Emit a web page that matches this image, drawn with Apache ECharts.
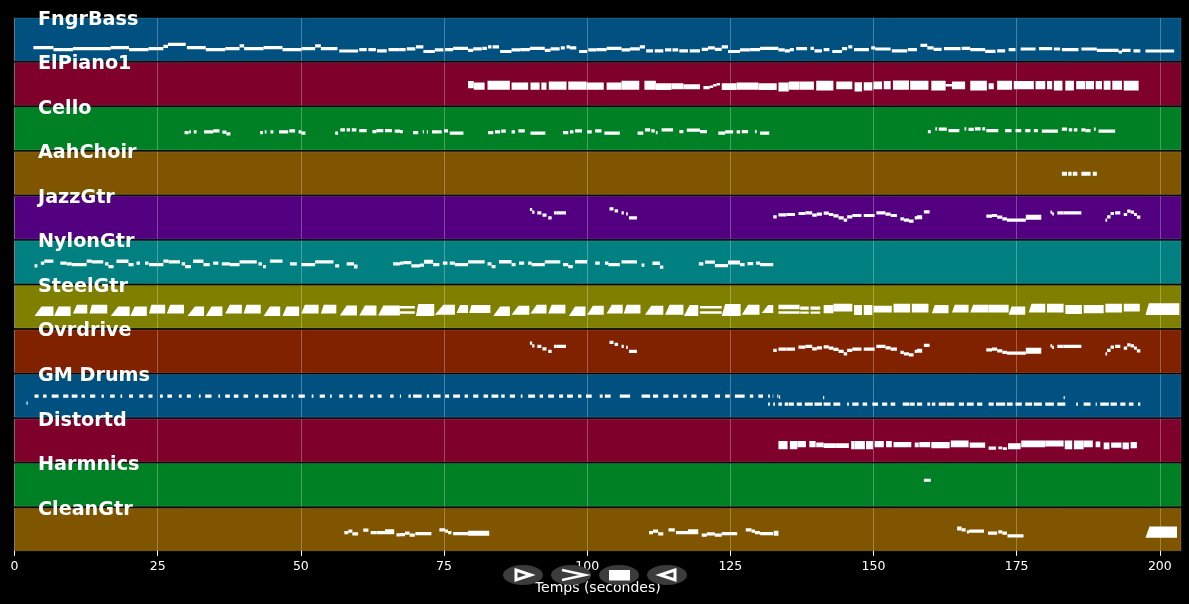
<!DOCTYPE html>
<html>
<head>
<meta charset="utf-8">
<style>html,body{margin:0;padding:0;background:#000}#chart{width:1189px;height:604px}</style>
<script src="https://cdn.jsdelivr.net/npm/echarts@6/dist/echarts.min.js"></script>
</head>
<body>
<div id="chart"></div>
<script>
// each note: [start (s), end (s), level in band, optional thickness, optional strum (s)]
var trackNames = ['FngrBass', 'ElPiano1', 'Cello', 'AahChoir', 'JazzGtr', 'NylonGtr', 'SteelGtr', 'Ovrdrive', 'GM Drums', 'Distortd', 'Harmnics', 'CleanGtr'];
var timeTicks = [0, 25, 50, 75, 100, 125, 150, 175, 200];

var fngrBass = [[3.3,6.8,13.2],[6.8,10.2,11.2],[10.2,16.8,12.2],[16.8,20,13.2],[20,23.4,11.2],[23.4,26,12.2],[26,26.8,14.5],[26.8,29.9,16.5],[30.1,33.4,13.2],[33.4,36.8,11.2],[36.8,39.3,12.2],[39.3,40.1,15],[40.1,43.5,12.2],[43.5,46.8,13.2],[46.8,50.1,11.2],[50.1,52.5,12.2],[52.5,53.5,15],[53.5,56.4,12.2],[56.7,60,9.8],[60.2,61.5,11.2],[61.8,63.1,11.2],[63.3,65,10],[65.3,67.3,11.2],[67.3,68.3,11.2],[68.5,70,12],[70.1,71.4,14],[71.4,73.4,9.3],[73.4,74.9,11],[75.2,76.6,11.2],[76.6,79.2,12.5],[79.2,80.1,10.5],[80.1,81.6,12],[81.7,82.5,12.5],[82.7,83.3,14],[83.5,84.6,14],[84.8,86.8,9.3],[86.8,88.3,11],[88.3,90,11.2],[90,92.6,12.5],[92.6,93.6,10.5],[93.6,95.2,12],[95.4,96.1,13],[96.4,97,14],[97,98.1,13],[98.6,100,9.3],[100.2,101.6,11],[101.6,103.4,11.2],[103.4,106,12.5],[106,107.5,11],[107.5,109.2,12],[109.2,110.1,14],[110.3,111.5,10],[111.8,113.3,10],[113.6,114.7,11],[114.9,115.9,11],[116.1,117.6,10],[117.9,119.7,10],[120,121.1,11.5],[121.1,122.3,13],[122.3,123.5,11.5],[123.5,124.6,14],[124.6,126.7,9.3],[126.7,128.4,11],[128.4,130.2,11.2],[130.2,133.4,12.5],[133.4,134.5,11],[134.5,135.4,10],[135.4,136.1,11.2],[136.5,138.4,12.2],[139,139.6,12.5],[139.7,141,10],[141.3,142.3,11.2],[142.8,144.5,9.3],[144.5,145.4,12.2],[145.6,146.3,14],[146.6,149.2,11.2],[149.6,150.3,13],[150.3,153,11.8],[153.2,155.9,10],[156,157.6,11.2],[158.2,159.4,15.5],[159.4,160.5,13],[160.5,161.9,11.5],[162.3,165.2,12.2],[165.4,166.9,12.5],[166.9,169.5,11.2],[169.5,171.3,9.5],[171.6,173,10],[173.6,174.8,11.2],[175.7,178.3,11.8],[178.9,181.2,12.2],[181.5,182.6,11.8],[182.9,185.8,11.2],[186.3,189,11.8],[189,192.8,10.5],[192.8,193.4,8.8],[193.4,194.9,10.5],[195.4,196.6,10],[197.5,202.5,9.8]];

var elPiano = [[79.2,80.2,20.8,7.3],[80.2,82.1,19.2,7.3],[82.6,86.5,20,9],[86.8,89.7,19.2,7.3],[90.1,91.7,19.2,7.3],[92,92.9,19.2,7.3],[93.3,96.4,19.7,8.3],[96.7,99.9,19.7,8.3],[99.9,102.9,19.2,7.3],[103.4,106,19.2,7.3],[106,109.1,20,9],[110,112,20,9],[112,114.7,18.8,6.7],[114.7,116.8,19.2,6],[116.8,119.7,18.7,5],[120.3,121.4,17.8,3.3],[121.4,122,18.5,2.5],[122,122.6,20,2.5],[122.6,123.2,21,2.5],[123.5,126.1,18.8,6.7],[126.1,129.9,19.2,7.3],[129.9,133.1,18.8,6.7],[133.4,135.2,18.3,9],[135.2,137.1,19.7,8.3],[137.1,139.6,19.7,8.3],[140,143,19.7,9.7],[143.5,146.3,20,7.7],[146.7,148,18.5,9.3],[148.3,149.8,19,8.3],[150,151.5,20,7.7],[151.8,153,20.3,8.3],[153.4,156.2,20.2,9.3],[156.4,159.6,20,9],[160.1,162.6,19.7,9.7],[162.6,163.7,20,2.5],[163.7,166,20,7.7],[166.9,169.8,19.7,9.7],[170.1,171,19.2,6],[171.6,174.2,20,9],[174.5,178,20.3,8.3],[178.3,180,20.3,8.3],[180.3,181.2,20.3,8.3],[181.5,183,19.7,9.7],[183.5,185,19.7,9.7],[185.4,187,20.3,8.3],[187.1,188.5,20.3,8.3],[188.8,189.9,20.3,8.3],[190.2,191.4,20,9],[191.7,193.4,20,9],[193.7,196.3,19.7,9.7]];

var cello = [[29.7,30.4,17.3],[30.5,30.8,18],[31.3,31.8,18],[33.1,33.8,18],[33.8,34.7,18],[34.7,35.8,19],[36.3,37,17.8],[37,37.7,16],[42.9,43.4,17.3],[43.7,44,18],[44.7,45.2,18],[46.2,46.9,18],[46.9,47.8,18],[48,49,19],[49.6,50.1,18],[50.1,50.8,16.7],[56,56.5,16.7],[56.9,57.7,20],[58,58.6,20],[58.9,59.7,20],[60.2,61.5,19.3],[62.5,63.2,18.3],[63.2,64.4,19.3],[64.7,65.9,19.3],[66.4,67.3,18.7],[67.3,67.8,18.3],[69.6,70.5,17.3],[71.3,71.5,18],[72,72.2,18],[72.9,74,18],[74,74.6,18],[75,75.7,19],[76,78.4,16.7],[82.7,83.6,17.3],[83.9,84.8,18],[85,85.8,18.7],[86.8,87.4,18],[88,89.1,19],[90.1,92.7,16.7],[95.8,96.7,17.3],[97,97.6,18],[97.9,99.1,19],[100,100.8,18],[101.4,102.5,19],[103,105.7,16.7],[108.8,109.8,16.7],[110.1,111,20],[111.2,111.8,19],[112,112.3,17.3],[113,115,20],[116.1,116.8,18.3],[117.4,119.7,19.7],[119.7,120.9,18.3],[122.9,124.1,16.7],[124.1,125.5,18],[126.1,126.7,18],[127,128.1,18.3],[129.3,129.6,18.3],[130.2,131.8,16.7],[159.5,160,18.3],[160.8,161.1,21],[161.4,162.8,20.7],[163.1,165,19.3],[165.9,166.2,21],[166.6,167.5,20.5],[167.7,168.7,21],[169,169.5,21],[169.7,171.8,19.3],[173,174.1,19.3],[174.8,175.8,19.3],[176.5,177.4,19.3],[178,178.7,19.3],[179.4,182.2,18.7],[182.9,183.8,20.7],[184.1,184.7,20],[185,185.6,20],[186.3,187,20],[187,187.9,19.3],[188.5,188.8,20.7],[189.3,192.2,18.7]];

var aahChoir = [[182.9,183.8,20.6,4],[184,184.6,20.6,4],[184.8,185.6,20.6,4],[186.3,187.3,20.6,4],[187.3,187.9,20.6,4],[188.3,189,20.6,4]];

var jazzGtr = [[90,90.4,29.5],[90.4,90.8,26.8],[91.3,92,26.2],[92.2,92.9,23.8],[93.2,93.8,21.2],[94.2,94.7,26.2],[94.7,96.3,26.2],[103.9,104.6,30.2],[104.8,105.4,28.2],[106,106.4,26.2],[106.8,107.1,25.2],[107.3,108.7,21.2],[132.5,133.1,22.2],[133.4,134.8,24.2],[134.8,136.3,24.5],[136.9,138.1,25.5],[138.1,139.3,26.2],[139.3,140.1,23.8],[140.1,141,24.8],[141.3,142.2,25.8],[142.2,143,24.5],[143,143.9,23.2],[143.9,144.8,21.2],[144.8,145.4,18.8],[145.4,146.3,22.2],[146.3,147.9,23.5],[148.3,150.2,23.5],[150.5,152.1,26.2],[152.1,153,24.8],[153,154.1,23.5],[154.7,155.3,20.2],[155.3,156.2,18.8],[156.2,157,17.8],[157.2,157.6,21.2],[157.6,158.5,21.8,4],[158.8,159.8,27.2],[169.7,170.7,22.8],[170.7,171.6,23.5],[171.6,172.5,21.8],[172.5,173.3,20.2],[173.3,176.6,18.8],[176.6,179.3,21.8,5],[180.9,181.2,26.8],[181.2,181.5,25.2],[182.1,183.2,26.2],[183.2,186.3,26.2],[190.5,190.8,18.8],[190.8,191.4,22.2],[191.4,192,25.5],[192.2,193.1,26.2],[193.7,194.3,24.5],[194.3,194.9,27.8],[194.9,195.5,26.8],[195.5,196,24.5],[196,196.6,21.8]];

var nylonGtr = [[3.5,4,17.7],[4.6,5.2,20.4],[5.2,6.8,22.4],[8,9.1,20.4],[9.1,10,19.7],[10,12.6,19],[12.6,13.5,22.4],[13.5,15.5,21.7],[15.8,16.4,19.7],[16.4,17.3,17],[17.8,19.9,22.4,3.5],[19.9,20.8,19],[21.3,21.9,20.4],[22.8,23.4,20.4],[23.5,26,19],[26,26.9,22.4],[26.9,28.9,21.7],[29.2,29.8,19.7],[29.8,30.8,17],[31.2,33,22.4,3.5],[33,34.1,19],[34.7,35.6,20.4],[36.2,37.6,19.7],[37.6,39.3,19],[39.3,42.3,21.7],[42.6,43.2,19.7],[43.4,43.9,17],[44.6,46.8,22.4],[48.1,49.3,19.7],[50.1,52.5,19],[52.5,55.7,21.7],[56,56.7,17.7],[58,59.3,19.7],[59.3,59.9,17,4],[66.1,67.3,19.7],[67.3,67.9,20.4],[67.9,69.3,21],[69.3,70.8,17.7],[70.8,71.5,18.4],[71.5,73.1,21.7,4],[73.1,74.2,19],[74.8,75.6,20.4],[76,76.9,20.4],[76.9,79.2,19],[79.2,82.1,21.7],[82.6,83.3,19.7],[83.3,84,17],[84.6,86.8,21.7,3.5],[86.8,87.5,19],[88.1,89,20.4],[89.7,90.3,20.4],[90.3,92.6,19],[92.6,95.3,21.7],[95.8,96.7,19],[96.7,97.5,17],[97.9,100,21.7,3.5],[101.4,102.2,20.4],[103.1,103.7,20.4],[103.7,105.7,19],[106,108.7,21.7],[109.5,110,18.4],[111.4,112.7,20.4,3.5],[112.7,113.3,16.4],[119.5,120.3,19.7],[120.6,122.3,21.4],[122.3,124.6,18],[124.6,126.7,21,4],[126.7,127.5,19],[128,129,20],[129.5,130.2,20.4],[130.2,132.5,19]];

var steelGtr = [[3.5,6.8,16.9,9.4,1.2],[6.9,9.8,16.9,9.4,0.8],[10.2,12.7,19,8.7,0.7],[13.1,16.2,19,8.7,0.4],[16.8,20.1,16.9,9.4,1.3],[20.2,23.1,16.9,9.4,0.8],[23.5,26.3,19,8.7,0.4],[26.6,29.6,19,8.7,0.6],[30.2,33.1,16.9,9.4,1.3],[33.4,36.3,16.9,9.4,1],[36.8,39.7,19,8.7,0.8],[40,43,19,8.7,0.5],[43.5,46.4,16.9,9.4,1.1],[46.8,49.7,16.9,9.4,0.7],[50.1,53.1,19,8.7,0.6],[53.5,56.2,19,8.7,0.5],[56.8,59.8,17.5,10,1.2],[60.2,63.2,17.5,10,1],[63.5,67.3,17.5,10,0.9],[67.3,69.9,20.9,2.5],[67.3,69.9,15.5,2.5],[70.1,73.3,18.2,12,0.4],[73.4,76.9,18.4,10,1.5],[77.2,79.2,19,8,0.6],[79.4,83.1,19,8,0.4],[83.6,86.5,16.9,9.4,1.2],[86.8,89.9,17.8,9,1.2],[90.1,92.9,19,8.7,1.1],[93.2,96.2,19,8.7,0.6],[96.8,99.7,16.9,9.4,1.1],[100,102.9,17.8,9,1],[103.4,106.2,19,8.7,0.9],[106.4,109.3,19,8.7,0.5],[110.1,113.3,17.8,9,1.1],[113.6,116.8,18.4,10,0.8],[116.9,119.4,17.7,11,1],[119.7,123.5,20.9,2.5],[119.7,123.5,15.5,2.5],[123.5,126.8,18.2,12,0.6],[127,130.1,18.4,10,1.1],[130.5,132.5,19,8,1.1],[133.4,137.1,21,4.5],[133.4,137.1,15.5,2.5],[137.2,138.7,19.9,3.3],[137.2,138.7,15.5,2.3],[139,140.7,19.9,3.3],[139,140.7,15.5,2.3],[141.3,143,19,8.3],[143,146.3,20.4,7.7],[146.6,148,18.2,10],[148.3,149.8,18.2,10],[150,153.2,18.9,6.7],[153.5,156.4,19.9,8.7],[156.7,159.6,19.9,8.7],[160.2,163.1,19,8.3,0.5],[163.7,166.6,19.5,7.7,0.5],[166.9,170.1,19.5,7.7,0.5],[170.1,173.6,19.5,7.7],[173.6,176.5,17.4,8.3,0.5],[177.1,180,19.9,8.7,0.5],[180.3,183.2,19.9,8.7],[183.5,186.4,18.7,9],[186.7,190.2,19,8.3],[190.5,193.4,19.9,8.7],[193.7,196.5,20.4,7.7],[197.5,203.4,19,11.7,0.6]];

var ovrdrive = [[90,90.4,29.5],[90.4,90.8,26.8],[91.3,92,26.2],[92.2,92.9,23.8],[93.2,93.8,21.2],[94.2,94.7,26.2],[94.7,96.3,26.2],[103.9,104.6,30.2],[104.8,105.4,28.2],[106,106.4,26.2],[106.8,107.1,25.2],[107.3,108.7,21.2],[132.5,133.1,22.2],[133.4,134.8,23.5],[134.8,136.3,23.5],[136.9,138.1,25.5],[138.1,139.3,26.2],[139.3,140.1,23.8],[140.1,141,24.8],[141.3,142.2,25.8],[142.2,143,24.5],[143,143.9,23.2],[143.9,144.8,21.2],[144.8,145.4,18.8],[145.4,146.3,22.2],[146.3,147.9,23.5],[148.3,150.2,23.5],[150.5,152.1,26.2],[152.1,153,24.8],[153,154.1,23.5],[154.7,155.3,20.2],[155.3,156.2,18.8],[156.2,157,17.8],[157.2,157.6,21.2],[157.6,158.5,21.8,4],[158.8,159.8,27.2],[169.7,170.7,22.8],[170.7,171.6,23.5],[171.6,172.5,21.8],[172.5,173.3,20.2],[173.3,176.6,19.5],[176.6,179.3,21.8,6],[180.9,181.2,26.8],[181.2,181.5,25.2],[182.1,183.2,26.2],[183.2,186.3,26.2],[190.5,190.8,18.8],[190.8,191.4,22.2],[191.4,192,25.5],[192.2,193.1,26.2],[193.7,194.3,24.5],[194.3,194.9,27.8],[194.9,195.5,26.8],[195.5,196,24.5],[196,196.6,21.8]];

var gmDrums = [[2.1,2.3,14],[3.5,4.2,21],[5,5.6,21],[6.5,7.7,21],[8.5,9.4,21],[10,11,21],[11.7,12.3,21],[13.2,14.1,21],[15.2,15.6,21],[16.7,17.5,21],[18.5,18.8,21],[20,20.7,21],[21.8,22.5,21],[23.4,24.1,21],[25.4,25.9,21],[26.7,27.5,21],[28.7,29.2,21],[30.1,30.8,21],[32.2,32.5,21],[33.3,34.4,21],[35.6,35.9,21],[36.8,37.6,21],[38.3,39.1,21],[40,40.8,21],[42,42.6,21],[43.4,44.3,21],[45.2,46.1,21],[46.6,47.5,21],[48.4,48.7,21],[49.6,50.7,21],[51.9,52.2,21],[53.3,54.2,21],[55.1,55.4,21],[56.7,57.4,21],[58.5,59,21],[60,60.8,21],[62.1,62.7,21],[63.4,64.1,21],[65.6,66.2,21],[67.3,67.5,21],[68.8,69.2,21],[69.6,71.1,21],[72,72.4,21],[73.1,74.4,21],[75.2,75.9,21],[76.6,77.8,21],[78.6,79.2,21],[80.1,81,21],[81.9,82.7,21],[83.3,84.5,21],[85,85.6,21],[86.5,87.4,21],[88.4,88.7,21],[89.7,90.9,21],[91.7,92.3,21],[93.2,94.2,21],[95.1,95.8,21],[96.5,97.5,21],[98.4,99,21],[99.8,100.8,21],[102.2,102.7,21],[103.1,104.1,21],[105.7,107.5,21],[109.5,111,21],[111.5,112.4,21],[113.3,114.2,21],[115,115.9,21],[116.8,117.4,21],[118.2,119.1,21],[120,121.1,21],[122.3,123.2,21],[124.1,124.9,21],[125.8,127.5,21],[128.4,129,21],[129.9,130.7,21],[131.6,131.9,21],[132.4,132.5,21],[133.2,133.4,21],[133.5,133.7,20],[131.6,131.9,13],[132.5,132.8,13],[133.4,134,13],[134.5,135.1,13],[135.2,136.1,13],[136.6,137.5,13],[138,139.4,13],[139.7,141,13],[141.3,142.5,13],[141.2,141.4,19.5],[143,144.2,13],[145.4,145.7,13],[146.3,147.4,13],[148.1,148.9,13],[149.8,150.8,13],[151.5,152.4,13],[153,153.8,13],[155.1,156.3,13],[156.4,157.2,13],[157.6,158.5,13],[159.4,159.9,13],[160.2,160.8,13],[161.4,162.6,13],[162.8,164.1,13],[164.9,165.8,13],[166.3,167.5,13],[168.1,169,13],[170.1,171,13],[171.4,173,13],[173.3,174.3,13],[174.8,175.9,13],[176.5,177.7,13],[178,179.4,13],[180,181.5,13],[182.1,183.5,13],[183.2,183.4,19.5],[185.4,185.7,13],[186.7,187.9,13],[188.8,189,13],[189.6,191.1,13],[191.4,192.5,13],[193.1,194,13],[194.6,195.4,13],[196.2,196.6,13]];

var distortd = [[133.4,135,16.7,8.3],[135.4,136.7,16.7,8.3],[136.7,138.2,17.7,6.3],[138.8,139.9,17.7,6.3],[140,141.3,16.9,4.7],[141.3,143.3,16.2,4.7],[143.3,145.7,16.2,4.7],[146.1,146.7,16.7,8.3],[146.7,148.5,16.7,8.3],[148.7,149.9,16.7,8.3],[150.2,151.8,17.7,6.3],[152.2,153.2,17.7,6.3],[153.5,156.6,17.2,5.3],[157.2,157.9,16.9,4.7],[158,159.9,17.2,5.3],[160.1,163.3,16.7,6.3],[163.5,166.6,17.9,6.7],[166.8,169.5,16.6,5.3],[170.1,171.4,13.6,3.3],[171.8,172.5,13.9,2.7],[172.6,173.3,13.2,2.7],[173.5,175.7,15.6,6],[175.8,180,17.9,6.7],[180,183.2,18.2,6],[183.4,184.7,16.9,8.7],[185,186.7,16.9,8.7],[186.7,188.3,17.9,6.7],[188.8,189.6,17.4,5.7],[190.2,191.2,15.9,6.7],[191.5,193.3,16.6,5.3],[193.5,194.6,15.9,6.7],[194.9,196,16.7,6.3]];

var harmnics = [[158.8,160,26.1,3]];

var cleanGtr = [[57.6,58.3,18.3],[58.3,59,19.7],[59,60,17],[60.9,61.8,20.7],[62.2,63.2,18.3],[63.2,64.7,18.3],[64.7,66.3,19.2,5],[66.7,67.3,16],[67.3,68.2,16.3],[68.2,69,17.7],[69,69.9,15.7],[70,72.8,17.3],[74.2,75.2,21],[75.2,75.7,19.7],[75.7,76.3,18.3],[76.6,79.2,17.3],[79.2,82.9,17.7,5],[110.8,111.5,18.3],[111.5,112.4,19.7],[112.4,113.3,17],[114.2,115.3,21],[115.5,117.6,18.3],[117.6,119.4,19.2,5],[120,120.9,15.7],[120.9,122.3,17],[122.3,123.5,15.7],[123.5,126.2,17.3],[127.7,128.7,21],[128.7,129.3,19.7],[129.3,130.2,18.3],[130.2,132.5,17.3],[132.6,133.4,17.7,5],[164.6,165.4,22.3,4],[165.4,166.1,21],[166.3,166.7,19],[166.7,169.3,19.7],[170,171.6,17.7],[171.8,172.5,19],[172.5,173.3,17.7],[173.4,176.2,15],[197.5,203,18.7,11.3,0.7]];

var trackNotes = [fngrBass, elPiano, cello, aahChoir, jazzGtr, nylonGtr, steelGtr, ovrdrive, gmDrums, distortd, harmnics, cleanGtr];
var bandColors = ['#005080', '#80002c', '#008024', '#805500', '#520080', '#008080', '#808000', '#802200', '#005080', '#80002c', '#008024', '#805500'];

var myChart = echarts.init(document.getElementById('chart'));

// a note is a box, chords are strummed so their top edge starts a bit later
function renderNote(params, api) {
    var lvl = api.value(2), half = api.value(3) / 2, strum = api.value(4);
    return {
        type: 'polygon',
        shape: {
            points: [
                api.coord([api.value(0), lvl - half]),
                api.coord([api.value(1), lvl - half]),
                api.coord([api.value(1), lvl + half]),
                api.coord([api.value(0) + strum, lvl + half])
            ]
        },
        style: { fill: '#fff' }
    };
}

var grids = [], xAxes = [], yAxes = [], series = [], labels = [];
for (var i = 0; i < trackNames.length; i++) {
    var bandTop = 18.1 + i * 44.55;
    var isLast = i == trackNames.length - 1;
    grids.push({
        show: true, left: 14.5, width: 1166.5, top: bandTop, height: 42.7,
        backgroundColor: bandColors[i], borderColor: 'rgba(255,255,255,0.3)', borderWidth: 0.5
    });
    xAxes.push({
        type: 'value', gridIndex: i, min: 0, max: 203.7,
        axisLine: { show: false },
        axisTick: { show: isLast, customValues: timeTicks, length: 5, lineStyle: { color: '#fff' } },
        axisLabel: { show: isLast, customValues: timeTicks, color: '#fff', fontFamily: 'DejaVu Sans', fontSize: 12.5, margin: 9 },
        splitLine: { show: true, lineStyle: { color: 'rgba(255,255,255,0.28)', width: 1 } },
        name: isLast ? 'Temps (secondes)' : '',
        nameLocation: 'middle', nameGap: 31,
        nameTextStyle: { color: '#fff', fontFamily: 'DejaVu Sans', fontSize: 14 }
    });
    yAxes.push({ type: 'value', gridIndex: i, min: 0, max: 42.7, show: false });
    series.push({
        type: 'custom', name: trackNames[i], xAxisIndex: i, yAxisIndex: i,
        renderItem: renderNote, clip: true, silent: true,
        encode: { x: [0, 1], y: 2 },
        data: trackNotes[i].map(function (n) { return [n[0], n[1], n[2], n.length > 3 ? n[3] : 3.2, n[4] || 0]; })
    });
    labels.push({
        type: 'text', x: 38, y: bandTop + 1.5, z: 100,
        style: { text: trackNames[i], fill: '#fff', font: 'bold 19.2px "DejaVu Sans"', verticalAlign: 'middle' }
    });
}

// playback buttons below the axis
var btnX = [523, 571, 619, 667];
btnX.forEach(function (x) {
    labels.push({ type: 'ellipse', z: 90, shape: { cx: x, cy: 575, rx: 20, ry: 10 }, style: { fill: '#3c3c3c' } });
});
labels.push({ type: 'polygon', z: 91, shape: { points: [[516, 570], [531, 575], [516, 580]] }, style: { fill: 'none', stroke: '#fff', lineWidth: 3 } });
labels.push({ type: 'polyline', z: 91, shape: { points: [[562, 570], [585, 575], [562, 580]] }, style: { fill: 'none', stroke: '#fff', lineWidth: 2.5 } });
labels.push({ type: 'rect', z: 91, shape: { x: 609, y: 570, width: 21, height: 10.5 }, style: { fill: '#fff' } });
labels.push({ type: 'polygon', z: 91, shape: { points: [[675, 570], [660, 575], [675, 580]] }, style: { fill: 'none', stroke: '#fff', lineWidth: 3 } });

var option = {
    animation: false,
    backgroundColor: '#000',
    grid: grids,
    xAxis: xAxes,
    yAxis: yAxes,
    series: series,
    graphic: labels
};

myChart.setOption(option);
window.onresize = myChart.resize;
</script>
</body>
</html>
